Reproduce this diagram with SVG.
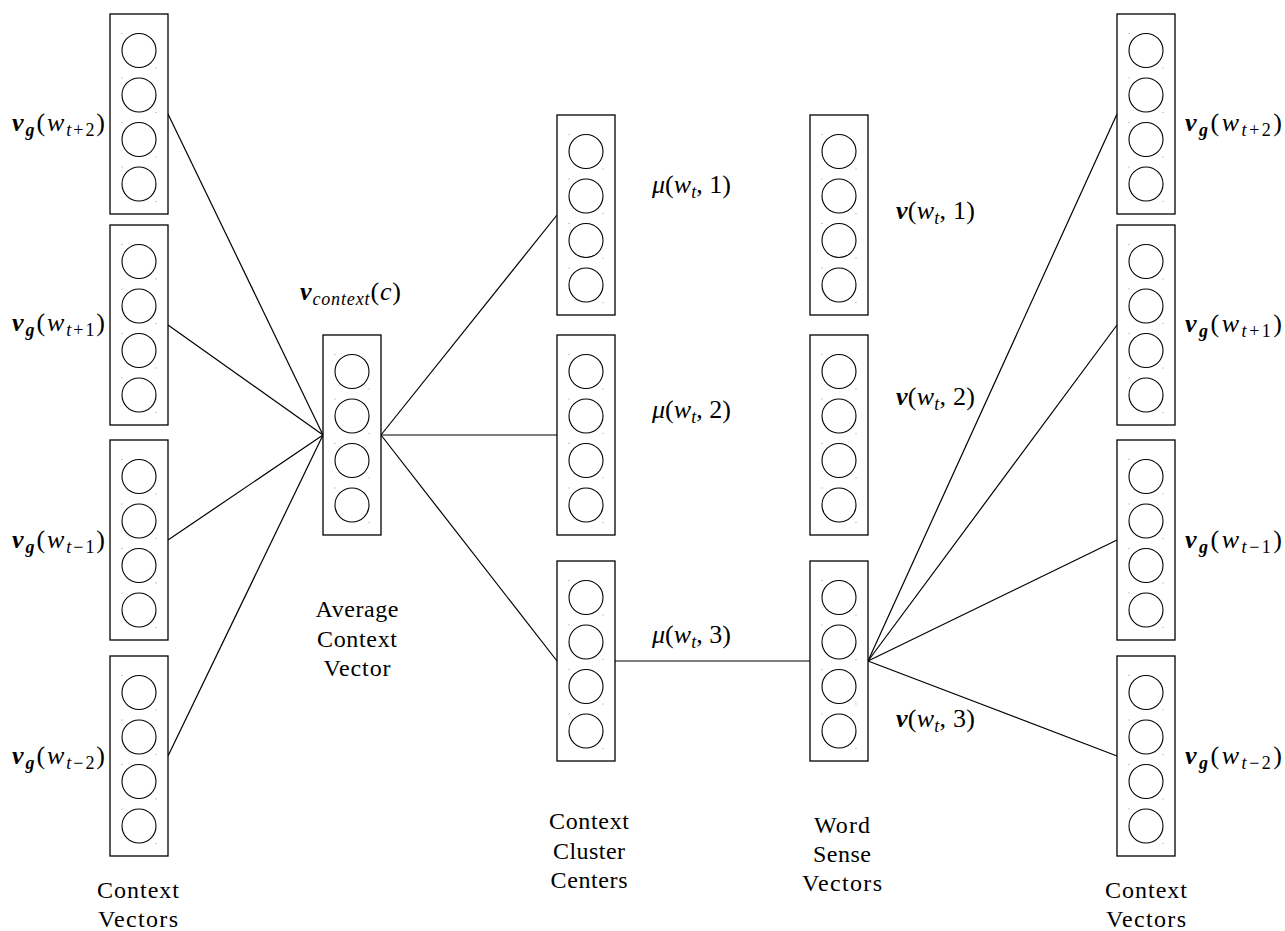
<svg xmlns="http://www.w3.org/2000/svg" xmlns:xlink="http://www.w3.org/1999/xlink" width="1285" height="931" viewBox="0 0 1285 931" font-family="'Liberation Serif', 'DejaVu Serif', serif">
  <style>
    .box { fill: #fff; stroke: #000; stroke-width: 1.3; }
    .unit { fill: none; stroke: #000; stroke-width: 1.1; }
    .dot { fill: #999; }
    .edge { stroke: #000; stroke-width: 1.2; fill: none; }
    text { font-family: 'Liberation Serif', 'DejaVu Serif', serif; fill: #000; }
    .m { font-size: 26px; }
    .s { font-size: 18px; }
    .b { font-weight: bold; font-style: italic; }
    .i { font-style: italic; }
    .cap { font-size: 24px; text-anchor: middle; }
  </style>
  <defs>
    <!-- a vector drawn as a column of four units -->
    <g id="vec">
      <rect class="box" x="0" y="0" width="58" height="200"/>
      <circle class="unit" cx="29" cy="36.5" r="17"/>
      <circle class="unit" cx="29" cy="81" r="17"/>
      <circle class="unit" cx="29" cy="125.5" r="17"/>
      <circle class="unit" cx="29" cy="170" r="17"/>
      <rect class="dot" x="11.5" y="19" width="1" height="1"/>
      <rect class="dot" x="45.5" y="53.5" width="1" height="1"/>
      <rect class="dot" x="11.5" y="63.5" width="1" height="1"/>
      <rect class="dot" x="45.5" y="98" width="1" height="1"/>
      <rect class="dot" x="11.5" y="108" width="1" height="1"/>
      <rect class="dot" x="45.5" y="142.5" width="1" height="1"/>
      <rect class="dot" x="11.5" y="152.5" width="1" height="1"/>
      <rect class="dot" x="45.5" y="187" width="1" height="1"/>
    </g>
  </defs>

  <rect x="0" y="0" width="1285" height="931" fill="#fff"/>

  <!-- connectors -->
  <g id="connectors">
    <line class="edge" x1="168" y1="114" x2="323" y2="435"/>
    <line class="edge" x1="168" y1="325" x2="323" y2="435"/>
    <line class="edge" x1="168" y1="540" x2="323" y2="435"/>
    <line class="edge" x1="168" y1="756" x2="323" y2="435"/>
    <line class="edge" x1="381" y1="435" x2="557" y2="215"/>
    <line class="edge" x1="381" y1="435" x2="557" y2="435"/>
    <line class="edge" x1="381" y1="435" x2="557" y2="661"/>
    <line class="edge" x1="615" y1="661" x2="810" y2="661"/>
    <line class="edge" x1="868" y1="661" x2="1117" y2="114"/>
    <line class="edge" x1="868" y1="661" x2="1117" y2="325"/>
    <line class="edge" x1="868" y1="661" x2="1117" y2="540"/>
    <line class="edge" x1="868" y1="661" x2="1117" y2="756"/>
  </g>

  <!-- left context vectors -->
  <g id="ctx-left-t2">
    <use xlink:href="#vec" x="110" y="14"/>
    <text class="m" x="12" y="131" textLength="93" lengthAdjust="spacing"><tspan class="b">v</tspan><tspan class="s b" dy="5">g</tspan><tspan dy="-5">(</tspan><tspan class="i">w</tspan><tspan class="s" dy="5"><tspan class="i">t</tspan>+2</tspan><tspan dy="-5">)</tspan></text>
  </g>
  <g id="ctx-left-t1">
    <use xlink:href="#vec" x="110" y="225"/>
    <text class="m" x="12" y="331" textLength="93" lengthAdjust="spacing"><tspan class="b">v</tspan><tspan class="s b" dy="5">g</tspan><tspan dy="-5">(</tspan><tspan class="i">w</tspan><tspan class="s" dy="5"><tspan class="i">t</tspan>+1</tspan><tspan dy="-5">)</tspan></text>
  </g>
  <g id="ctx-left-tm1">
    <use xlink:href="#vec" x="110" y="440"/>
    <text class="m" x="12" y="548" textLength="93" lengthAdjust="spacing"><tspan class="b">v</tspan><tspan class="s b" dy="5">g</tspan><tspan dy="-5">(</tspan><tspan class="i">w</tspan><tspan class="s" dy="5"><tspan class="i">t</tspan>−1</tspan><tspan dy="-5">)</tspan></text>
  </g>
  <g id="ctx-left-tm2">
    <use xlink:href="#vec" x="110" y="656"/>
    <text class="m" x="12" y="764" textLength="93" lengthAdjust="spacing"><tspan class="b">v</tspan><tspan class="s b" dy="5">g</tspan><tspan dy="-5">(</tspan><tspan class="i">w</tspan><tspan class="s" dy="5"><tspan class="i">t</tspan>−2</tspan><tspan dy="-5">)</tspan></text>
  </g>

  <!-- average context vector -->
  <g id="avg-context">
    <use xlink:href="#vec" x="323" y="335"/>
    <text class="m" x="300" y="300" textLength="101" lengthAdjust="spacing"><tspan class="b">v</tspan><tspan class="s i" dy="5">context</tspan><tspan dy="-5">(</tspan><tspan class="i">c</tspan>)</text>
  </g>

  <!-- context cluster centers -->
  <g id="cluster-1">
    <use xlink:href="#vec" x="557" y="115"/>
    <text class="m" x="652" y="193" textLength="79" lengthAdjust="spacing"><tspan class="i">μ</tspan>(<tspan class="i">w</tspan><tspan class="s i" dy="5">t</tspan><tspan dy="-5">, 1)</tspan></text>
  </g>
  <g id="cluster-2">
    <use xlink:href="#vec" x="557" y="335"/>
    <text class="m" x="652" y="418" textLength="79" lengthAdjust="spacing"><tspan class="i">μ</tspan>(<tspan class="i">w</tspan><tspan class="s i" dy="5">t</tspan><tspan dy="-5">, 2)</tspan></text>
  </g>
  <g id="cluster-3">
    <use xlink:href="#vec" x="557" y="561"/>
    <text class="m" x="652" y="643" textLength="79" lengthAdjust="spacing"><tspan class="i">μ</tspan>(<tspan class="i">w</tspan><tspan class="s i" dy="5">t</tspan><tspan dy="-5">, 3)</tspan></text>
  </g>

  <!-- word sense vectors -->
  <g id="sense-1">
    <use xlink:href="#vec" x="810" y="115"/>
    <text class="m" x="896" y="219" textLength="79" lengthAdjust="spacing"><tspan class="b">v</tspan>(<tspan class="i">w</tspan><tspan class="s i" dy="5">t</tspan><tspan dy="-5">, 1)</tspan></text>
  </g>
  <g id="sense-2">
    <use xlink:href="#vec" x="810" y="335"/>
    <text class="m" x="896" y="405" textLength="79" lengthAdjust="spacing"><tspan class="b">v</tspan>(<tspan class="i">w</tspan><tspan class="s i" dy="5">t</tspan><tspan dy="-5">, 2)</tspan></text>
  </g>
  <g id="sense-3">
    <use xlink:href="#vec" x="810" y="561"/>
    <text class="m" x="896" y="727" textLength="79" lengthAdjust="spacing"><tspan class="b">v</tspan>(<tspan class="i">w</tspan><tspan class="s i" dy="5">t</tspan><tspan dy="-5">, 3)</tspan></text>
  </g>

  <!-- right context vectors -->
  <g id="ctx-right-t2">
    <use xlink:href="#vec" x="1117" y="14"/>
    <text class="m" x="1185" y="131" textLength="97" lengthAdjust="spacing"><tspan class="b">v</tspan><tspan class="s b" dy="5">g</tspan><tspan dy="-5">(</tspan><tspan class="i">w</tspan><tspan class="s" dy="5"><tspan class="i">t</tspan>+2</tspan><tspan dy="-5">)</tspan></text>
  </g>
  <g id="ctx-right-t1">
    <use xlink:href="#vec" x="1117" y="225"/>
    <text class="m" x="1185" y="332" textLength="97" lengthAdjust="spacing"><tspan class="b">v</tspan><tspan class="s b" dy="5">g</tspan><tspan dy="-5">(</tspan><tspan class="i">w</tspan><tspan class="s" dy="5"><tspan class="i">t</tspan>+1</tspan><tspan dy="-5">)</tspan></text>
  </g>
  <g id="ctx-right-tm1">
    <use xlink:href="#vec" x="1117" y="440"/>
    <text class="m" x="1185" y="548" textLength="97" lengthAdjust="spacing"><tspan class="b">v</tspan><tspan class="s b" dy="5">g</tspan><tspan dy="-5">(</tspan><tspan class="i">w</tspan><tspan class="s" dy="5"><tspan class="i">t</tspan>−1</tspan><tspan dy="-5">)</tspan></text>
  </g>
  <g id="ctx-right-tm2">
    <use xlink:href="#vec" x="1117" y="656"/>
    <text class="m" x="1185" y="764" textLength="97" lengthAdjust="spacing"><tspan class="b">v</tspan><tspan class="s b" dy="5">g</tspan><tspan dy="-5">(</tspan><tspan class="i">w</tspan><tspan class="s" dy="5"><tspan class="i">t</tspan>−2</tspan><tspan dy="-5">)</tspan></text>
  </g>

  <!-- column captions -->
  <g id="captions">
    <text class="cap" x="138" y="898" textLength="82">Context</text>
    <text class="cap" x="138" y="927" textLength="80">Vectors</text>
    <text class="cap" x="357" y="617" textLength="83">Average</text>
    <text class="cap" x="357" y="647" textLength="80">Context</text>
    <text class="cap" x="357" y="676" textLength="67">Vector</text>
    <text class="cap" x="589" y="829" textLength="80">Context</text>
    <text class="cap" x="589" y="859" textLength="72">Cluster</text>
    <text class="cap" x="589" y="888" textLength="77">Centers</text>
    <text class="cap" x="842" y="833" textLength="56">Word</text>
    <text class="cap" x="842" y="862" textLength="58">Sense</text>
    <text class="cap" x="842" y="891" textLength="80">Vectors</text>
    <text class="cap" x="1146" y="898" textLength="82">Context</text>
    <text class="cap" x="1146" y="927" textLength="80">Vectors</text>
  </g>
</svg>
